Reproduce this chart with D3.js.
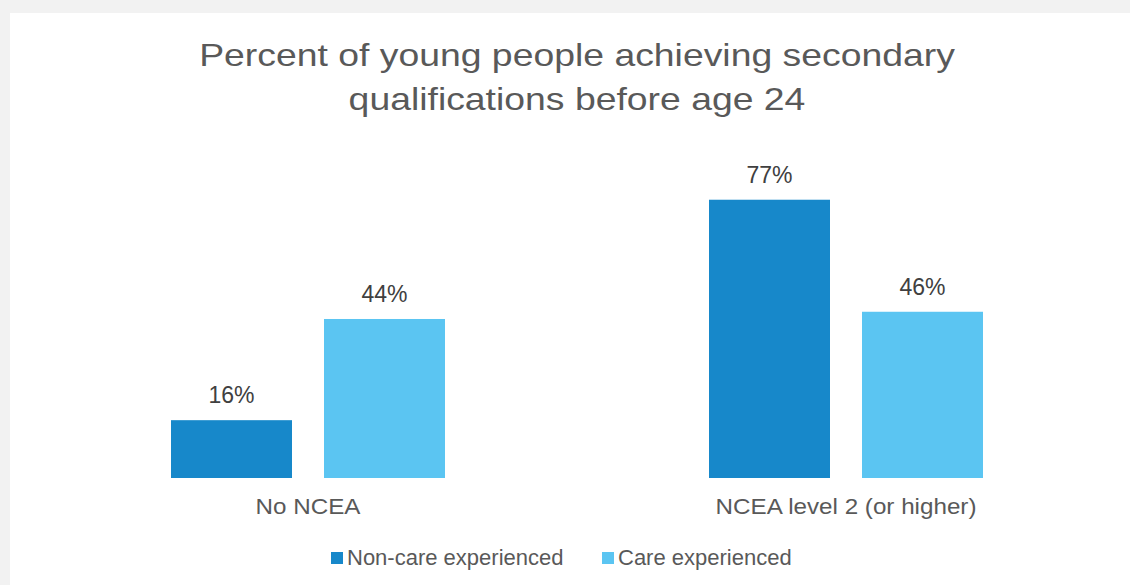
<!DOCTYPE html>
<html>
<head>
<meta charset="utf-8">
<script src="https://cdn.jsdelivr.net/npm/d3@7"></script>
<style>
  html, body { margin: 0; padding: 0; background: #f2f2f2; }
  svg { display: block; font-family: "Liberation Sans", Arial, sans-serif; }
</style>
</head>
<body>
<svg id="chart" width="1130" height="585"></svg>
<script>
// Chart data
const categories = ["No NCEA", "NCEA level 2 (or higher)"];
const seriesNames = ["Non-care experienced", "Care experienced"];
const nonCare = [16, 77];
const careExp = [44, 46];
const titleLines = ["Percent of young people achieving secondary", "qualifications before age 24"];

const colors = ["#1788ca", "#5bc5f2"];
const svg = d3.select("#chart");
const W = 1130, H = 585;

// Horizontal stretch factor per text block
const stretch = { title: 1.167, value: 1.0, cat: 1.1, legend: 1.0 };
function widen(sel, factor) {
  sel.each(function () {
    const w = this.getComputedTextLength();
    d3.select(this).attr("textLength", w * factor).attr("lengthAdjust", "spacingAndGlyphs");
  });
}

// White chart panel
svg.append("rect").attr("x", 10).attr("y", 13).attr("width", W - 10).attr("height", H - 13).attr("fill", "#ffffff");

// Title
const titleText = svg.selectAll("text.title").data(titleLines).join("text")
  .attr("class", "title")
  .attr("x", 577)
  .attr("y", (d, i) => 66 + i * 44)
  .attr("text-anchor", "middle")
  .attr("fill", "#595959")
  .style("font-size", "32px")
  .text(d => d);
widen(titleText, stretch.title);

const rows = categories.map((c, i) => ({ cat: c, values: [nonCare[i], careExp[i]] }));

const x0 = d3.scaleBand().domain(categories).range([39, 1115]).paddingInner(0).paddingOuter(0);
const x1 = d3.scaleBand().domain(seriesNames).range([0, 274]).paddingInner(32 / 153).paddingOuter(0);
const y = d3.scaleLinear().domain([0, 90]).range([478, 152.75]);

const groups = svg.selectAll("g.grp").data(rows).join("g")
  .attr("class", "grp")
  .attr("transform", d => `translate(${x0(d.cat) + x0.bandwidth() / 2 - 137},0)`);

groups.selectAll("rect").data(d => d.values.map((v, i) => ({ v, s: seriesNames[i], i }))).join("rect")
  .attr("x", d => x1(d.s))
  .attr("width", x1.bandwidth())
  .attr("y", d => y(d.v))
  .attr("height", d => y(0) - y(d.v))
  .attr("fill", d => colors[d.i]);

const valueLabels = groups.selectAll("text.val").data(d => d.values.map((v, i) => ({ v, s: seriesNames[i] }))).join("text")
  .attr("class", "val")
  .attr("x", d => x1(d.s) + x1.bandwidth() / 2)
  .attr("y", d => y(d.v) - 17)
  .attr("text-anchor", "middle")
  .attr("fill", "#404040")
  .style("font-size", "23px")
  .text(d => d.v + "%");
widen(valueLabels, stretch.value);

// Category axis labels
const xAxis = d3.axisBottom(x0).tickSize(0).tickPadding(0);
const axisG = svg.append("g").attr("transform", `translate(0,${y(0)})`).call(xAxis);
axisG.select(".domain").remove();
const catLabels = axisG.selectAll("text")
  .attr("y", 36)
  .attr("dy", 0)
  .attr("fill", "#595959")
  .style("font-size", "22px")
  .style("font-family", '"Liberation Sans", Arial, sans-serif');
widen(catLabels, stretch.cat);

// Legend
const legendX = [331, 602];
const legend = svg.append("g");
seriesNames.forEach((name, i) => {
  legend.append("rect").attr("x", legendX[i]).attr("y", 552).attr("width", 12).attr("height", 12).attr("fill", colors[i]);
  const t = legend.append("text").attr("x", legendX[i] + 16).attr("y", 565)
    .attr("fill", "#595959").style("font-size", "22px").text(name);
  widen(t, stretch.legend);
});
</script>
</body>
</html>
